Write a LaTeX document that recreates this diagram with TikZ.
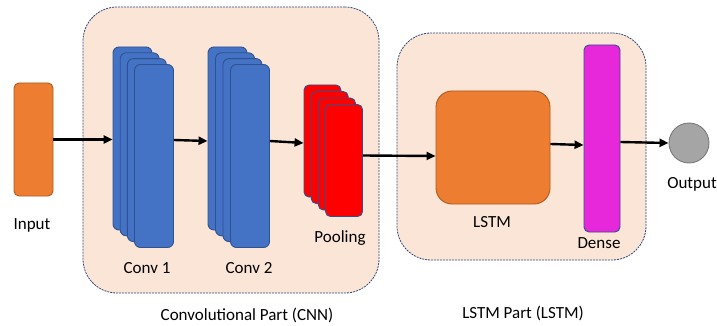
\documentclass[tikz,border=0pt]{standalone}
\usepackage{fontspec}
\setmainfont{Carlito}
\usetikzlibrary{arrows.meta}
\definecolor{peach}{HTML}{FBE5D6}
\definecolor{frame}{HTML}{2F4A78}
\definecolor{oblue}{HTML}{4472C4}
\definecolor{oblued}{HTML}{2F528F}
\definecolor{oorange}{HTML}{ED7D31}
\definecolor{oorangeD}{HTML}{AE5A21}
\definecolor{mag}{HTML}{E628DA}
\definecolor{ogray}{HTML}{A5A5A5}
\definecolor{ograyD}{HTML}{7A7A7A}
\tikzset{
  part/.style={draw=frame, fill=peach, line width=0.8pt, dash pattern=on 2pt off 1pt, rounded corners=34pt},
  bluelayer/.style={draw=oblued, fill=oblue, line width=0.9pt, rounded corners=6pt, minimum width=39pt, minimum height=183pt, inner sep=0pt},
  redlayer/.style={draw=oblued, fill=red, line width=0.9pt, rounded corners=5pt, minimum width=37pt, minimum height=112pt, inner sep=0pt},
  lbl/.style={font=\fontsize{17}{20}\selectfont, inner sep=0pt},
  arr/.style={line width=2.4pt, -{Triangle[length=9pt,width=8pt]}},
}
\begin{document}
\begin{tikzpicture}[x=1pt,y=-1pt]
\useasboundingbox (0,0) rectangle (717,326);
% containers
\node[part, minimum width=296pt, minimum height=286pt, inner sep=0pt] (cnnpart) at (231,150) {};
\node[part, minimum width=249pt, minimum height=227pt, inner sep=0pt] (lstmpart) at (521.5,146.5) {};
% input
\node[draw=oorangeD, fill=oorange, line width=0.9pt, rounded corners=5pt, minimum width=39pt, minimum height=113pt, inner sep=0pt] (input) at (33.5,139.5) {};
% conv 1
\node[bluelayer] (c1a) at (132.5,138.5) {};
\node[bluelayer] (c1b) at (139.7,144.3) {};
\node[bluelayer] (c1c) at (146.9,150.1) {};
\node[bluelayer] (c1d) at (154,156) {};
% conv 2
\node[bluelayer] (c2a) at (227.5,138.5) {};
\node[bluelayer] (c2b) at (235,144.3) {};
\node[bluelayer] (c2c) at (242.5,150.1) {};
\node[bluelayer] (c2d) at (250,156) {};
% pooling
\node[redlayer] (p1) at (322.5,141) {};
\node[redlayer] (p2) at (329.7,147.5) {};
\node[redlayer] (p3) at (336.9,154) {};
\node[redlayer] (p4) at (344,160.5) {};
% lstm
\node[draw=oorangeD, fill=oorange, line width=0.9pt, rounded corners=16pt, minimum width=114pt, minimum height=113pt, inner sep=0pt] (lstm) at (493,147.5) {};
% dense
\node[draw=oblued, fill=mag, line width=0.9pt, rounded corners=5pt, minimum width=36pt, minimum height=187pt, inner sep=0pt] (dense) at (602,138.5) {};
% output
\node[circle, draw=ograyD, fill=ogray, line width=0.9pt, minimum size=40pt, inner sep=0pt] (out) at (689,143) {};
% arrows
\draw[arr] (input.east) -- (c1a.west |- input.east);
\draw[arr] ([yshift=16pt]c1d.east) -- ([yshift=-2.5pt]c2a.west);
\draw[arr] ([yshift=15pt]c2d.east) -- ([yshift=-2pt]p1.west);
\draw[arr] ([yshift=5pt]p4.east) -- ([yshift=-8.5pt]lstm.west);
\draw[arr] ([yshift=3.5pt]lstm.east) -- ([yshift=-6.5pt]dense.west);
\draw[arr] ([yshift=-3.5pt]dense.east) -- (out.west);
% labels
\node[lbl] (tin) at (32,225) {Input};
\node[lbl] (tc1) at (147,268) {Conv 1};
\node[lbl] (tc2) at (249,268) {Conv 2};
\node[lbl] (tpool) at (340,238) {Pooling};
\node[lbl] (tlstm) at (492,222) {LSTM};
\node[lbl] (tdense) at (599,243) {Dense};
\node[lbl] (tout) at (692,184) {Output};
\node[lbl] (tcnnp) at (247,315) {Convolutional Part (CNN)};
\node[lbl] (tlstmp) at (523,313) {LSTM Part (LSTM)};
\end{tikzpicture}
\end{document}
